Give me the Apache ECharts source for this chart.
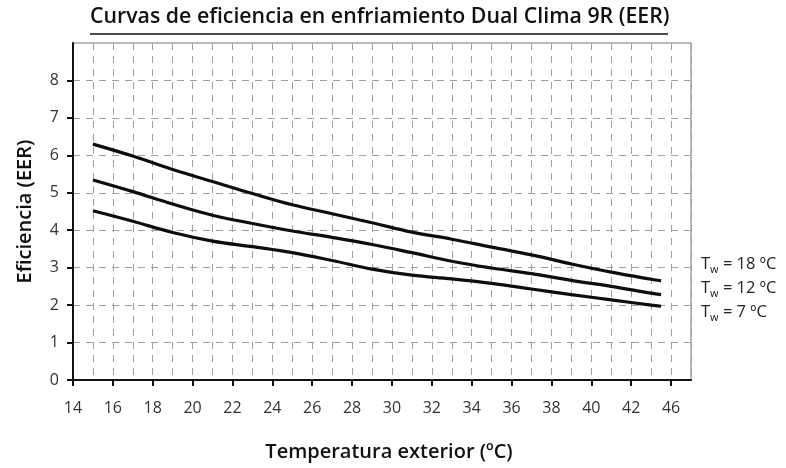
<!DOCTYPE html>
<html>
<head>
<meta charset="utf-8">
<script src="https://cdn.jsdelivr.net/npm/echarts@6/dist/echarts.min.js"></script>
<style>
html,body{margin:0;padding:0;background:#fff;}
#chart{width:786px;height:468px;}
</style>
</head>
<body>
<div id="chart"></div>
<script>
// Data
var temps = [15, 17, 19, 21, 23, 25, 27, 29, 31, 33, 35, 37, 39, 41, 43, 43.5];
var eerTw18 = [6.30, 5.98, 5.62, 5.30, 4.98, 4.68, 4.44, 4.20, 3.95, 3.76, 3.55, 3.34, 3.10, 2.88, 2.69, 2.65];
var eerTw12 = [5.34, 5.03, 4.70, 4.40, 4.18, 3.98, 3.81, 3.62, 3.40, 3.17, 2.99, 2.84, 2.66, 2.50, 2.32, 2.28];
var eerTw7  = [4.52, 4.24, 3.94, 3.71, 3.56, 3.40, 3.19, 2.96, 2.80, 2.70, 2.58, 2.43, 2.28, 2.14, 2.00, 1.97];
var xTickValues = [14, 16, 18, 20, 22, 24, 26, 28, 30, 32, 34, 36, 38, 40, 42, 44];
var xTickLabels = ['14', '16', '18', '20', '22', '24', '26', '28', '30', '32', '34', '36', '38', '40', '42', '46'];
var yTickValues = [0, 1, 2, 3, 4, 5, 6, 7, 8];
var seriesNames = ['Tw = 18 ºC', 'Tw = 12 ºC', 'Tw = 7 ºC'];
var legendSubs = ['18', '12', '7'];

function pairs(xs, ys) { return xs.map(function (x, i) { return [x, ys[i]]; }); }

var chart = echarts.init(document.getElementById('chart'), null, {renderer: 'canvas'});
var FONT = "'Open Sans', 'Noto Sans', sans-serif";
var gridDash = {color: '#a0a0a0', width: 1, type: [7, 6]};

var lineStyle = {color: '#0d0d0d', width: 3.2};
function mkSeries(name, data) {
  return {
    name: name, type: 'line', data: data, smooth: 0.4, showSymbol: false, symbol: 'none',
    lineStyle: lineStyle, silent: true, z: 5, xAxisIndex: 0
  };
}

var legendGraphics = legendSubs.map(function (v, i) {
  return {
    type: 'text', left: 701, top: 256 + i * 24,
    style: {
      text: '{t|T}{s|w}{t| = ' + v + ' ºC}',
      rich: {
        t: {fontFamily: FONT, fontSize: 16.5, fill: '#222', verticalAlign: 'bottom'},
        s: {fontFamily: FONT, fontSize: 11, fill: '#222', verticalAlign: 'bottom', padding: [0, 0, -2, 0]}
      }
    }
  };
});

chart.setOption({
  animation: false,
  backgroundColor: '#fff',
  grid: {left: 73, top: 43, right: 95, bottom: 88, show: true, borderColor: '#777', borderWidth: 1, backgroundColor: 'transparent'},
  xAxis: [{
    type: 'value', min: 14, max: 45,
    name: 'Temperatura exterior (ºC)', nameLocation: 'middle', nameGap: 62,
    nameTextStyle: {fontFamily: FONT, fontSize: 20, fontWeight: 600, color: '#111', padding: [0, 0, 0, 14]},
    axisLine: {show: true, lineStyle: {color: '#111', width: 2}},
    axisTick: {show: true, length: 6, lineStyle: {color: '#111', width: 2}, customValues: xTickValues},
    axisLabel: {
      customValues: xTickValues, margin: 20, fontFamily: FONT, fontSize: 16, color: '#333',
      formatter: function (v) { var i = xTickValues.indexOf(v); return i >= 0 ? xTickLabels[i] : ''; }
    },
    splitLine: {show: false}
  }, {
    type: 'value', min: 14, max: 45, interval: 1, position: 'top', show: true,
    axisLine: {show: false}, axisTick: {show: false}, axisLabel: {show: false},
    splitLine: {show: true, lineStyle: gridDash}
  }],
  yAxis: {
    type: 'value', min: 0, max: 9, interval: 1,
    name: 'Eficiencia (EER)', nameLocation: 'middle', nameGap: 38, nameRotate: 90,
    nameTextStyle: {fontFamily: FONT, fontSize: 20, fontWeight: 600, color: '#111'},
    axisLine: {show: true, lineStyle: {color: '#111', width: 2}},
    axisTick: {show: true, length: 6, lineStyle: {color: '#111', width: 2}, customValues: yTickValues},
    axisLabel: {customValues: yTickValues, margin: 14, fontFamily: FONT, fontSize: 16, color: '#333'},
    splitLine: {show: true, lineStyle: gridDash}
  },
  graphic: [
    {
      type: 'text', left: 90, top: 6,
      style: {text: 'Curvas de eficiencia en enfriamiento Dual Clima 9R (EER)', fontFamily: FONT, fontSize: 21.3, fontWeight: 600, fill: '#111'}
    },
    {
      type: 'line', shape: {x1: 90, y1: 34, x2: 668, y2: 34}, style: {stroke: '#111', lineWidth: 1.5}
    }
  ].concat(legendGraphics),
  series: [
    mkSeries(seriesNames[0], pairs(temps, eerTw18)),
    mkSeries(seriesNames[1], pairs(temps, eerTw12)),
    mkSeries(seriesNames[2], pairs(temps, eerTw7))
  ]
});
</script>
</body>
</html>
